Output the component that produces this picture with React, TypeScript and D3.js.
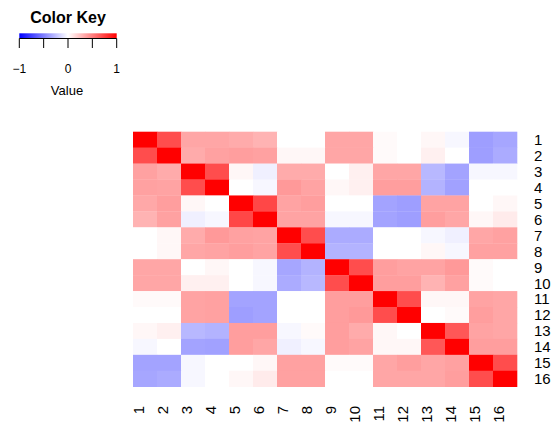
import React from "react";
import * as d3 from "d3";

const rowLabels = ["1","2","3","4","5","6","7","8","9","10","11","12","13","14","15","16"];
const colLabels = ["1","2","3","4","5","6","7","8","9","10","11","12","13","14","15","16"];

// correlation values, rows top→bottom, columns left→right
const values: number[][] = [
  [1, 0.7, 0.35, 0.35, 0.33, 0.3, 0, 0, 0.35, 0.35, 0.02, 0, 0.03, -0.03, -0.38, -0.35],
  [0.7, 1, 0.33, 0.37, 0.38, 0.37, 0.03, 0.03, 0.35, 0.35, 0.02, 0, 0.06, 0, -0.38, -0.33],
  [0.37, 0.33, 1, 0.7, 0.03, -0.06, 0.33, 0.33, 0, 0.06, 0.35, 0.35, -0.28, -0.36, -0.03, -0.03],
  [0.37, 0.36, 0.7, 1, 0, -0.03, 0.4, 0.36, 0.03, 0.06, 0.38, 0.38, -0.3, -0.37, 0, 0],
  [0.34, 0.38, 0.03, 0, 1, 0.72, 0.36, 0.38, 0, 0, -0.36, -0.38, 0.36, 0.36, 0, 0.03],
  [0.3, 0.37, -0.06, -0.03, 0.72, 1, 0.36, 0.36, -0.03, -0.03, -0.36, -0.38, 0.38, 0.35, 0.03, 0.08],
  [0, 0.03, 0.33, 0.4, 0.37, 0.36, 1, 0.7, -0.33, -0.33, 0, 0, -0.03, -0.06, 0.35, 0.37],
  [0, 0.03, 0.35, 0.36, 0.38, 0.36, 0.7, 1, -0.3, -0.3, 0, 0, 0.03, -0.03, 0.37, 0.37],
  [0.35, 0.35, 0, 0.03, 0, -0.03, -0.35, -0.3, 1, 0.7, 0.38, 0.36, 0.36, 0.4, 0.02, 0],
  [0.35, 0.35, 0.06, 0.06, 0, -0.03, -0.33, -0.28, 0.7, 1, 0.38, 0.38, 0.3, 0.37, 0.02, 0],
  [0.02, 0.02, 0.36, 0.37, -0.36, -0.36, 0, 0, 0.38, 0.38, 1, 0.7, 0.03, 0.03, 0.36, 0.35],
  [0, 0, 0.36, 0.37, -0.38, -0.36, 0, 0, 0.38, 0.4, 0.7, 1, 0, 0.02, 0.38, 0.35],
  [0.03, 0.06, -0.28, -0.3, 0.38, 0.38, -0.03, 0.02, 0.38, 0.33, 0.03, 0, 1, 0.66, 0.36, 0.35],
  [-0.03, 0, -0.36, -0.37, 0.38, 0.35, -0.06, -0.03, 0.38, 0.36, 0.03, 0.03, 0.66, 1, 0.38, 0.38],
  [-0.36, -0.36, -0.03, 0, 0, 0.03, 0.37, 0.37, 0.02, 0.02, 0.35, 0.38, 0.35, 0.37, 1, 0.7],
  [-0.35, -0.33, -0.03, 0, 0.03, 0.08, 0.37, 0.37, 0, 0, 0.35, 0.35, 0.35, 0.38, 0.7, 1],
];

const keyTicks = [-1, -0.5, 0, 0.5, 1];
const keyTickLabels = [-1, 0, 1];

const W = 557;
const H = 426;
const FONT = "'Liberation Sans', Arial, Helvetica, sans-serif";

export default function App() {
  const x = d3.scaleBand<string>().domain(colLabels).range([133, 517]).paddingInner(0);
  const y = d3.scaleBand<string>().domain(rowLabels).range([131.7, 386.7]).paddingInner(0);
  const color = d3
    .scaleLinear<string>()
    .domain([-1, 0, 1])
    .range(["#0000ff", "#ffffff", "#ff0000"])
    .interpolate(d3.interpolateRgb);

  const kx = d3.scaleLinear().domain([-1, 1]).range([19.3, 116.7]);
  const gradStops = d3.range(0, 1.0001, 0.1);

  return (
    <svg width={W} height={H} style={{ position: "absolute", left: 0, top: 0, background: "#fff" }} fontFamily={FONT}>
      <defs>
        <linearGradient id="keygrad" x1="0" x2="1" y1="0" y2="0">
          {gradStops.map((t) => (
            <stop key={t} offset={t} stopColor={color(-1 + 2 * t)} />
          ))}
        </linearGradient>
      </defs>
      {/* Color key */}
      <text x={68} y={23} textAnchor="middle" fontWeight="bold" fontSize={16}>
        Color Key
      </text>
      <rect x={kx(-1)} y={33.3} width={kx(1) - kx(-1)} height={5} fill="url(#keygrad)" />
      <line x1={kx(-1)} x2={kx(1)} y1={38.5} y2={38.5} stroke="#000" strokeWidth={1} />
      {keyTicks.map((t) => (
        <line key={t} x1={kx(t)} x2={kx(t)} y1={38.5} y2={48} stroke="#000" strokeWidth={1} />
      ))}
      {keyTickLabels.map((t) => (
        <text key={t} x={kx(t)} y={72.5} textAnchor="middle" fontSize={12}>
          {t < 0 ? "\u2212" + Math.abs(t) : String(t)}
        </text>
      ))}
      <text x={67} y={95} textAnchor="middle" fontSize={13}>
        Value
      </text>

      {/* Heatmap cells */}
      {values.map((row, i) =>
        row.map((v, j) => (
          <rect
            key={`${i}-${j}`}
            x={x(colLabels[j])!}
            y={y(rowLabels[i])!}
            width={x.bandwidth() + 0.3}
            height={y.bandwidth() + 0.3}
            fill={color(v)}
          />
        ))
      )}

      {/* Row labels */}
      {rowLabels.map((r) => (
        <text key={r} x={534} y={y(r)! + y.bandwidth() / 2} dy="0.36em" fontSize={15}>
          {r}
        </text>
      ))}
      {/* Column labels */}
      {colLabels.map((c) => (
        <text
          key={c}
          transform={`translate(${x(c)! + x.bandwidth() / 2 - 1},406) rotate(-90)`}
          textAnchor="end"
          fontSize={15}
        >
          {c}
        </text>
      ))}
    </svg>
  );
}
